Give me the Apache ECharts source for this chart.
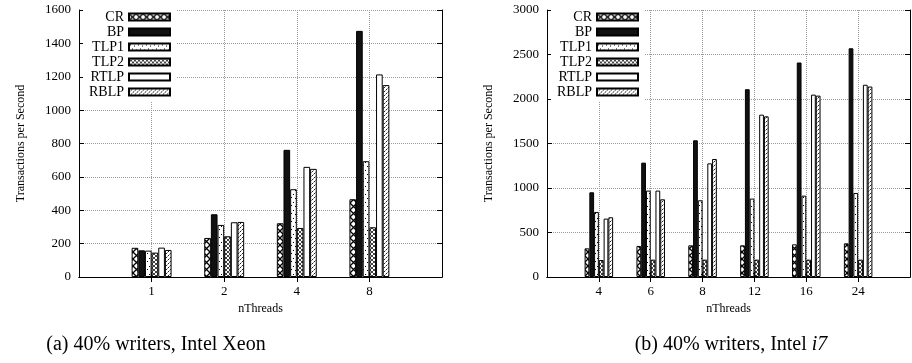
<!DOCTYPE html>
<html><head><meta charset="utf-8">
<script src="https://cdn.jsdelivr.net/npm/echarts@6/dist/echarts.min.js"></script>
<style>html,body{margin:0;padding:0;background:#fff}#c{width:912px;height:363px}</style>
</head><body><div id="c"></div>
<script>
// ---- data ----
const seriesNames = ['CR', 'BP', 'TLP1', 'TLP2', 'RTLP', 'RBLP'];

const xeonThreads = ['1', '2', '4', '8'];
const xeonCR   = [175, 234, 322, 466];
const xeonBP   = [160, 376, 762, 1475];
const xeonTLP1 = [158, 312, 526, 694];
const xeonTLP2 = [146, 244, 294, 298];
const xeonRTLP = [176, 328, 660, 1214];
const xeonRBLP = [162, 330, 648, 1150];

const i7Threads = ['4', '6', '8', '12', '16', '24'];
const i7CR   = [322, 349, 356, 356, 367, 378];
const i7BP   = [952, 1285, 1536, 2110, 2410, 2570];
const i7TLP1 = [731, 971, 862, 881, 914, 944];
const i7TLP2 = [191, 195, 195, 195, 195, 195];
const i7RTLP = [656, 971, 1277, 1824, 2049, 2160];
const i7RBLP = [671, 873, 1326, 1805, 2038, 2140];

const xeonYMax = 1600, xeonYStep = 200;
const i7YMax = 3000, i7YStep = 500;

const yAxisTitle = 'Transactions per Second';
const xAxisTitle = 'nThreads';
const captionA = '(a) 40% writers, Intel Xeon';
const captionB = '(b) 40% writers, Intel {i|i7}';

// ---- patterns ----
function canvasPattern(w, h, draw) {
  const c = document.createElement('canvas');
  c.width = w; c.height = h;
  const g = c.getContext('2d');
  g.fillStyle = '#fff'; g.fillRect(0, 0, w, h);
  draw(g);
  return { image: c, repeat: 'repeat' };
}
const patCR = canvasPattern(7, 7, g => {
  g.strokeStyle = '#000'; g.lineWidth = 1.3;
  g.beginPath(); g.moveTo(0, 0); g.lineTo(7, 7); g.moveTo(7, 0); g.lineTo(0, 7); g.stroke();
});
const patTLP1 = canvasPattern(8, 8, g => {
  g.fillStyle = '#000';
  [[1,1],[5,2],[3,5],[7,6]].forEach(p => g.fillRect(p[0], p[1], 1, 1));
});
const patTLP2 = canvasPattern(4, 4, g => {
  g.strokeStyle = '#444'; g.lineWidth = 1;
  g.beginPath(); g.moveTo(0, 0); g.lineTo(4, 4); g.moveTo(4, 0); g.lineTo(0, 4); g.stroke();
});
const patRBLP = canvasPattern(4, 4, g => {
  g.fillStyle = '#222';
  [[0,3],[2,1]].forEach(p => g.fillRect(p[0], p[1], 1, 1));
  g.fillStyle = '#999';
  [[1,2],[3,0]].forEach(p => g.fillRect(p[0], p[1], 1, 1));
});
const fills = [patCR, '#111', patTLP1, patTLP2, '#fff', patRBLP];

const xeonValues = [xeonCR, xeonBP, xeonTLP1, xeonTLP2, xeonRTLP, xeonRBLP];
const i7Values = [i7CR, i7BP, i7TLP1, i7TLP2, i7RTLP, i7RBLP];

function pad(arr, fill) { return [fill].concat(arr, [fill]); }

const FONT = '"Liberation Serif", "Times New Roman", serif';
const gridColor = '#9a9a9a';

function xAxes(gridIndex, cats) {
  const data = pad(cats, '');
  const last = data.length - 1;
  const inner = (i) => i > 0 && i < last;
  return [{
    gridIndex, type: 'category', data, boundaryGap: false, position: 'bottom',
    axisLine: { show: true, lineStyle: { color: '#000', width: 1 } },
    axisTick: { show: true, inside: true, length: 5, interval: inner, lineStyle: { color: '#000' } },
    axisLabel: { interval: inner, margin: 8, color: '#000', fontFamily: FONT, fontSize: 13 },
    splitLine: { show: true, interval: inner, lineStyle: { color: gridColor, type: 'dotted', width: 1 } },
    name: xAxisTitle, nameLocation: 'middle', nameGap: 23,
    nameTextStyle: { color: '#000', fontFamily: FONT, fontSize: 12 }
  }, {
    gridIndex, type: 'category', data, boundaryGap: false, position: 'top',
    axisLine: { show: true, lineStyle: { color: '#000', width: 1 } },
    axisTick: { show: true, inside: true, length: 5, interval: inner, lineStyle: { color: '#000' } },
    axisLabel: { show: false }, splitLine: { show: false }
  }];
}
function yAxes(gridIndex, max, step, nameGap) {
  return [{
    gridIndex, type: 'value', min: 0, max, interval: step, position: 'left',
    axisLine: { show: true, lineStyle: { color: '#000', width: 1 } },
    axisTick: { show: true, inside: true, length: 5, lineStyle: { color: '#000' } },
    axisLabel: { margin: 8, color: '#000', fontFamily: FONT, fontSize: 13, formatter: v => String(v) },
    splitLine: { show: true, lineStyle: { color: gridColor, type: 'dotted', width: 1 } },
    name: yAxisTitle, nameLocation: 'middle', nameGap, nameRotate: 90,
    nameTextStyle: { color: '#000', fontFamily: FONT, fontSize: 12 }
  }, {
    gridIndex, type: 'value', min: 0, max, interval: step, position: 'right',
    axisLine: { show: true, lineStyle: { color: '#000', width: 1 } },
    axisTick: { show: true, inside: true, length: 5, lineStyle: { color: '#000' } },
    axisLabel: { show: false }, splitLine: { show: false }
  }];
}

const series = [];
seriesNames.forEach((name, k) => {
  const common = {
    name, type: 'bar', barGap: '0%', barCategoryGap: '45%',
    itemStyle: { color: fills[k], borderColor: '#000', borderWidth: 1 },
    emphasis: { disabled: true }, animation: false
  };
  series.push(Object.assign({}, common, { xAxisIndex: 0, yAxisIndex: 0, data: pad(xeonValues[k], '-') }));
  series.push(Object.assign({}, common, { xAxisIndex: 2, yAxisIndex: 2, data: pad(i7Values[k], '-') }));
});

function legend(rightPx) {
  return {
    data: seriesNames.map(n => ({ name: n, icon: 'rect' })),
    orient: 'vertical', align: 'right', right: rightPx, top: 8,
    itemWidth: 41, itemHeight: 7, itemGap: 1, selectedMode: false,
    backgroundColor: '#fff', padding: [2, 6, 2, 6],
    textStyle: { color: '#000', fontFamily: FONT, fontSize: 14, lineHeight: 14 }
  };
}

const chart = echarts.init(document.getElementById('c'), null, { renderer: 'canvas' });
chart.setOption({
  animation: false,
  grid: [
    { left: 79, top: 10, width: 363, height: 267 },
    { left: 547, top: 10, width: 363, height: 267 }
  ],
  xAxis: xAxes(0, xeonThreads).concat(xAxes(1, i7Threads)),
  yAxis: yAxes(0, xeonYMax, xeonYStep, 52).concat(yAxes(1, i7YMax, i7YStep, 52)),
  legend: [legend(912 - 171 - 6), legend(912 - 639 - 6)],
  series,
  graphic: [
    { type: 'text', x: 156, y: 345, style: { text: captionA, font: '20px ' + FONT, fill: '#000', textAlign: 'center', textVerticalAlign: 'middle' } },
    { type: 'text', x: 731, y: 345, style: { text: captionB, font: '20px ' + FONT, fill: '#000', textAlign: 'center', textVerticalAlign: 'middle', rich: { i: { fontStyle: 'italic', fontFamily: FONT, fontSize: 20 } } } }
  ]
});
</script>
</body></html>
